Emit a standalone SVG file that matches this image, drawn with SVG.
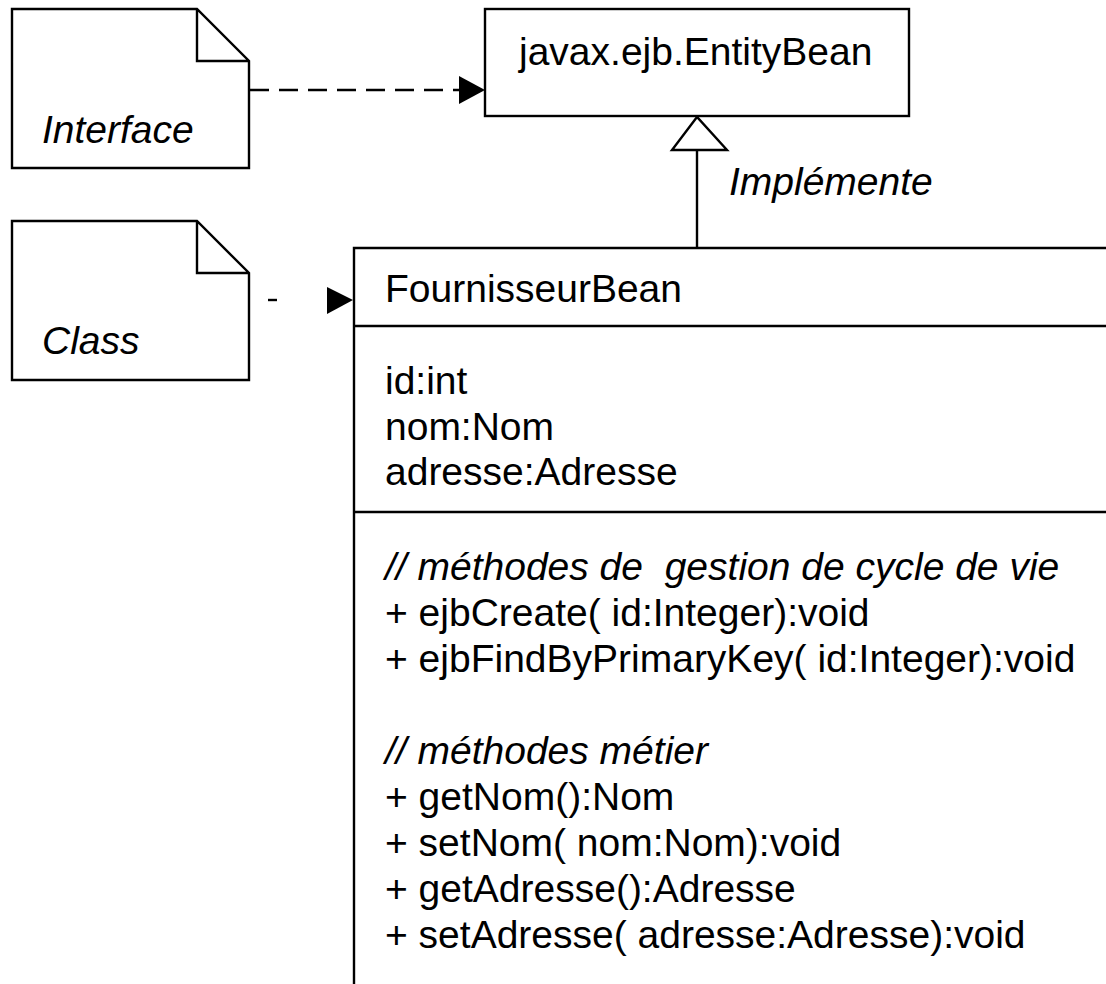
<svg xmlns="http://www.w3.org/2000/svg" width="1106" height="984" viewBox="0 0 1106 984">
<style>
.ln{fill:none;stroke:#000;stroke-width:2.4;stroke-linejoin:miter}
.box{fill:#fff;stroke:#000;stroke-width:2.4}
.t{font-family:"Liberation Sans",Arial,sans-serif;font-size:39px;fill:#000}
.i{font-style:italic}
</style>
<rect width="1106" height="984" fill="#fff"/>
<g id="connectors">
  <line class="ln" x1="250" y1="90" x2="460" y2="90" stroke-dasharray="19 10"/>
  <polygon points="459,76 485,90 459,104" fill="#000"/>
  <line class="ln" x1="268" y1="300" x2="277" y2="300" stroke-width="1.5"/>
  <polygon points="327,287 353,300 327,314" fill="#000"/>
  <line class="ln" x1="697" y1="150" x2="697" y2="248"/>
  <polygon class="box" points="697,117 672,150 727,150"/>
  <text class="t i" x="729" y="195">Implémente</text>
</g>
<g id="note-interface">
  <path class="ln" d="M12,9 H197 L249,61 V168 H12 Z M197,9 V61 H249"/>
  <text class="t i" x="42" y="143">Interface</text>
</g>
<g id="note-class">
  <path class="ln" d="M12,221 H197 L249,273 V380 H12 Z M197,221 V273 H249"/>
  <text class="t i" x="42" y="354">Class</text>
</g>
<g id="entitybean">
  <rect class="box" x="485" y="9" width="424" height="107"/>
  <text class="t" x="519" y="65">javax.ejb.EntityBean</text>
</g>
<g id="fournisseurbean">
  <path class="ln" d="M1112,248 H354 V992 M354,326 H1112 M354,512 H1112"/>
  <text class="t" x="385" y="302">FournisseurBean</text>
  <text class="t" x="385" y="394">id:int</text>
  <text class="t" x="385" y="440">nom:Nom</text>
  <text class="t" x="385" y="485">adresse:Adresse</text>
  <text class="t i" x="385" y="580" xml:space="preserve">// méthodes de  gestion de cycle de vie</text>
  <text class="t" x="385" y="626">+ ejbCreate( id:Integer):void</text>
  <text class="t" x="385" y="672">+ ejbFindByPrimaryKey( id:Integer):void</text>
  <text class="t i" x="385" y="764">// méthodes métier</text>
  <text class="t" x="385" y="810">+ getNom():Nom</text>
  <text class="t" x="385" y="856">+ setNom( nom:Nom):void</text>
  <text class="t" x="385" y="902">+ getAdresse():Adresse</text>
  <text class="t" x="385" y="948">+ setAdresse( adresse:Adresse):void</text>
</g>
</svg>
